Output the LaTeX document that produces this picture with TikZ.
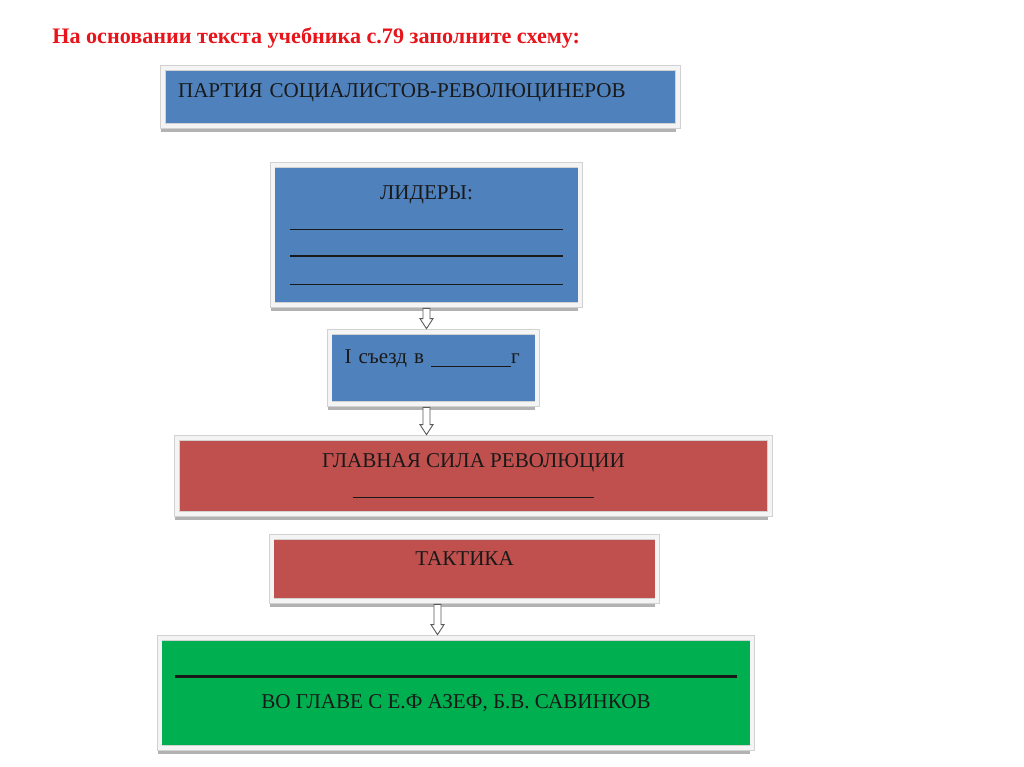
\documentclass[tikz,border=0pt]{standalone}
\usepackage{fontspec}
\setmainfont{Liberation Serif}
\usetikzlibrary{calc,shadows}
\definecolor{SRBlue}{HTML}{4F81BD}
\definecolor{SRRed}{HTML}{C0504D}
\definecolor{SRGreen}{HTML}{00B050}
\definecolor{Frame}{HTML}{F4F4F4}
\definecolor{TitleRed}{HTML}{E8141B}

% hollow block arrow between two points (y grows downwards)
\newcommand\hollowarrow[2]{%
  \draw[arrowline] ($(#1)+(-3.5,3)$) -- ($(#2)+(-3.5,-13)$) -- ($(#2)+(-6.5,-13)$)
    -- ($(#2)+(0,-3)$) -- ($(#2)+(6.5,-13)$) -- ($(#2)+(3.5,-13)$)
    -- ($(#1)+(3.5,3)$) -- cycle;}

\begin{document}
\begin{tikzpicture}[x=0.02cm, y=-0.02cm,
                box/.style={draw=gray!35, double=Frame, double distance=0.08cm,
                            line width=0.4pt, text=black!90,
                            drop shadow={shadow xshift=-0.04cm, shadow yshift=-0.13cm,
                                         fill=gray!60, opacity=1},
                            inner xsep=0.3cm, inner ysep=0.1cm,
                            font=\fontsize{12}{15.5}\selectfont, align=center},
                arrowline/.style={draw=gray!70!black, fill=white, line width=0.5pt}]
                \useasboundingbox (0,0) rectangle (1024,767);

                \node[anchor=west, inner sep=0pt, text=TitleRed,
                      font=\fontsize{12.6}{14}\selectfont\bfseries] (title) at (52,38)
                      {На основании текста учебника с.79 заполните схему:};

                \node[box, fill=SRBlue, minimum width=10.3cm, minimum height=1.16cm,
                      text width=9.7cm, align=left, text height=0.3cm, text depth=0.3cm]
                      (party) at (420.5,97) {ПАРТИЯ СОЦИАЛИСТОВ-РЕВОЛЮЦИНЕРОВ};
                \node[box, fill=SRBlue, minimum width=6.16cm, minimum height=2.8cm]
                      (lead) at (426.5,235)
                      {ЛИДЕРЫ:\\[2pt] \rule{5.46cm}{0.5pt}\\ \rule{5.46cm}{1.2pt}\\ \rule{5.46cm}{0.5pt}};
                \node[box, fill=SRBlue, minimum width=4.16cm, minimum height=1.44cm,
                      text width=3.56cm, align=left, text height=0.3cm, text depth=0.5cm]
                      (congr) at (433.5,368) {I съезд в \rule[-2.5pt]{1.6cm}{0.6pt}г};
                \node[box, fill=SRRed, minimum width=11.86cm, minimum height=1.52cm]
                      (force) at (473.5,476)
                      {ГЛАВНАЯ СИЛА РЕВОЛЮЦИИ\\[2pt]\rule{4.84cm}{0.6pt}};
                \node[box, fill=SRRed, minimum width=7.72cm, minimum height=1.28cm,
                      text height=0.3cm, text depth=0.44cm]
                      (tact) at (464.5,569) {ТАКТИКА};
                \node[box, fill=SRGreen, minimum width=11.74cm, minimum height=2.2cm]
                      (head) at (456,693)
                      {\rule{11.26cm}{1.7pt}\\[2pt]ВО ГЛАВЕ С Е.Ф АЗЕФ, Б.В. САВИНКОВ};

                \coordinate (a1t) at (lead.south |- congr.north);
                \coordinate (a2s) at (lead.south |- congr.south);
                \coordinate (a2t) at (lead.south |- force.north);
                \coordinate (a3s) at ($(tact.south)+(-27,0)$);
                \coordinate (a3t) at (a3s |- head.north);
                \hollowarrow{lead.south}{a1t}
                \hollowarrow{a2s}{a2t}
                \hollowarrow{a3s}{a3t}
\end{tikzpicture}
\end{document}
